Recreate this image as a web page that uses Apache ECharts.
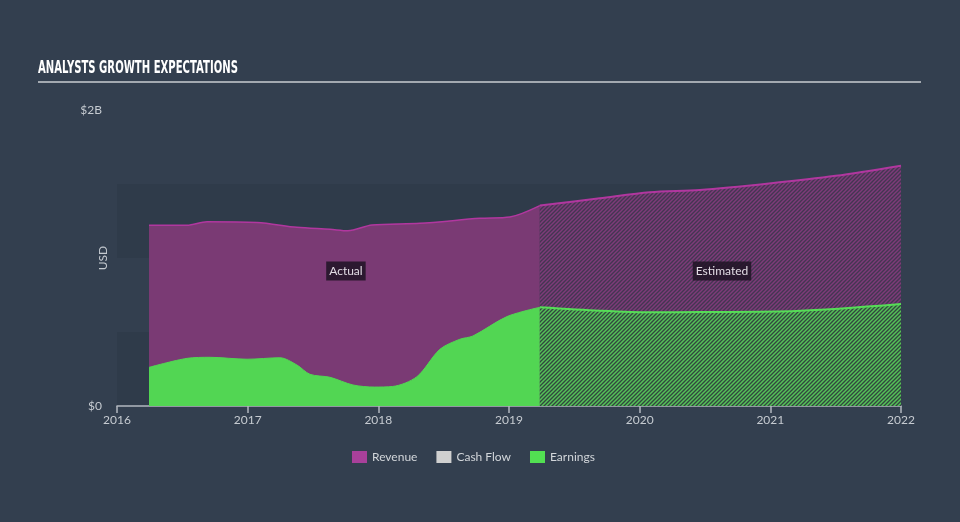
<!DOCTYPE html>
<html>
<head>
<meta charset="utf-8">
<script src="https://cdn.jsdelivr.net/npm/echarts@6/dist/echarts.min.js"></script>
<style>
html,body{margin:0;padding:0;background:#333f4f;}
#chart{width:960px;height:522px;}
</style>
</head>
<body>
<div id="chart"></div>
<script>
// ---- data (values in billions USD, x in fractional years) ----
const xTicks = [2016, 2017, 2018, 2019, 2020, 2021, 2022];
const yTickLabels = ['$0', '$2B'];

const revenueActualDates = [2016.245, 2016.536, 2016.689, 2017.071, 2017.377, 2017.630, 2017.767, 2017.951, 2018.318, 2018.777, 2019.007, 2019.236];
const revenueActual      = [1.221,    1.221,    1.245,    1.240,    1.207,    1.194,    1.184,    1.223,    1.234,    1.268,    1.277,    1.354];

const revenueEstDates = [2019.236, 2019.695, 2020.078, 2020.460, 2020.990, 2021.500, 2022.000];
const revenueEst      = [1.354,    1.403,    1.444,    1.459,    1.503,    1.555,    1.624];

const earningsActualDates = [2016.245, 2016.536, 2016.712, 2016.995, 2017.247, 2017.377, 2017.477, 2017.630, 2017.806, 2017.970, 2018.110, 2018.295, 2018.471, 2018.624, 2018.724, 2018.984, 2019.236];
const earningsActual      = [0.261,    0.322,    0.329,    0.316,    0.326,    0.277,    0.214,    0.194,    0.142,    0.128,    0.132,    0.198,    0.383,    0.451,    0.473,    0.604,    0.667];

const earningsEstDates = [2019.236, 2019.695, 2020.078, 2020.460, 2021.200, 2022.000];
const earningsEst      = [0.667,    0.644,    0.633,    0.635,    0.642,    0.689];

const titleText = 'ANALYSTS GROWTH EXPECTATIONS';
const periodLabels = ['Actual', 'Estimated'];
const periodLabelPos = [[2017.752, 0.912], [2020.630, 0.912]];

// ---- helpers ----
const B = 1e9;
function pairs(xs, ys) { return xs.map((x, i) => [x, ys[i] * B]); }

function hatch(bg, fg) {
  const s = 4;
  const c = document.createElement('canvas');
  c.width = s; c.height = s;
  const g = c.getContext('2d');
  g.fillStyle = bg; g.fillRect(0, 0, s, s);
  g.strokeStyle = fg; g.lineWidth = 1.5;
  g.beginPath();
  g.moveTo(-1, s + 1); g.lineTo(s + 1, -1);
  g.moveTo(-1, 1); g.lineTo(1, -1);
  g.moveTo(s - 1, s + 1); g.lineTo(s + 1, s - 1);
  g.stroke();
  return { image: c, repeat: 'repeat' };
}

const REV_FILL = '#7a3a74', REV_LINE = '#b1379f';
const ERN_FILL = '#52d653', ERN_LINE = '#56dd57';
const FONT = 'Lato, sans-serif';

const chart = echarts.init(document.getElementById('chart'), null, { renderer: 'canvas' });
chart.setOption({
  backgroundColor: '#333f4f',
  animation: false,
  graphic: [
    {
      type: 'text', x: 38, y: 68, scaleX: 0.56, silent: true,
      style: { text: titleText, x: 0, y: 0, fill: '#ffffff', font: 'bold 18px "DejaVu Sans", sans-serif',
        textVerticalAlign: 'middle', textAlign: 'left' }
    },
    {
      type: 'line', shape: { x1: 38, y1: 82, x2: 921, y2: 82 },
      style: { stroke: '#a3a9b0', lineWidth: 2 }, silent: true
    }
  ],
  grid: { left: 117, right: 59, top: 110, bottom: 116 },
  legend: {
    bottom: 54, left: 347,
    icon: 'rect', itemWidth: 15, itemHeight: 12, itemGap: 19,
    textStyle: { color: '#d2d6da', fontSize: 12, fontFamily: FONT },
    data: [
      { name: 'Revenue', itemStyle: { color: '#a8409a', borderWidth: 0 } },
      { name: 'Cash Flow', itemStyle: { color: '#d0d0d0', borderWidth: 0 } },
      { name: 'Earnings', itemStyle: { color: '#52e052', borderWidth: 0 } }
    ]
  },
  xAxis: {
    type: 'value', min: 2016, max: 2022, interval: 1,
    axisLine: { lineStyle: { color: '#b2b8c0', width: 1.5 } },
    axisTick: { show: true, length: 7, lineStyle: { color: '#b2b8c0', width: 1.5 } },
    axisLabel: { color: '#c6cbd1', fontSize: 12, margin: 8, fontFamily: FONT,
      formatter: v => (xTicks.indexOf(v) >= 0 ? String(v) : '') },
    splitLine: { show: false }
  },
  yAxis: {
    type: 'value', min: 0, max: 2 * B, interval: 0.5 * B,
    name: 'USD', nameLocation: 'middle', nameRotate: 90, nameGap: 8, nameMoveOverlap: false,
    nameTextStyle: { color: '#c6cbd1', fontSize: 12, fontFamily: FONT },
    axisLine: { show: false }, axisTick: { show: false },
    splitLine: { show: false },
    splitArea: { show: true, areaStyle: { color: ['#2f3b4a', '#333f4f', '#2f3b4a', 'rgba(0,0,0,0)'] } },
    axisLabel: { color: '#c6cbd1', fontSize: 12, margin: 15, fontFamily: FONT, padding: [0, 0, 5, 0],
      formatter: v => (v === 0 ? yTickLabels[0] : (v === 2 * B ? yTickLabels[1] : '')) }
  },
  series: [
    {
      name: 'Revenue', type: 'line', data: pairs(revenueActualDates, revenueActual),
      smooth: 0.3, showSymbol: false, z: 2,
      lineStyle: { color: REV_LINE, width: 1.5 }, itemStyle: { color: REV_LINE },
      areaStyle: { color: REV_FILL, opacity: 1 },
      markPoint: {
        symbol: 'rect', symbolSize: 0, silent: true,
        label: { show: true, position: 'inside', color: '#e2dce4', fontSize: 12, fontFamily: FONT,
          backgroundColor: 'rgba(30,20,36,0.85)', padding: [4, 3, 3, 3],
          formatter: p => p.name },
        data: periodLabels.map((n, i) => ({ name: n, coord: [periodLabelPos[i][0], periodLabelPos[i][1] * B] }))
      }
    },
    {
      name: 'Revenue', type: 'line', data: pairs(revenueEstDates, revenueEst),
      smooth: 0.3, showSymbol: false, z: 2,
      lineStyle: { color: REV_LINE, width: 2 }, itemStyle: { color: REV_LINE },
      areaStyle: { color: hatch('#433651', '#7e3b79'), opacity: 1 }
    },
    { name: 'Cash Flow', type: 'line', data: [], itemStyle: { color: '#d0d0d0' } },
    {
      name: 'Earnings', type: 'line', data: pairs(earningsActualDates, earningsActual),
      smooth: 0.3, showSymbol: false, z: 3,
      lineStyle: { color: ERN_FILL, width: 1 }, itemStyle: { color: ERN_FILL },
      areaStyle: { color: ERN_FILL, opacity: 1 }
    },
    {
      name: 'Earnings', type: 'line', data: pairs(earningsEstDates, earningsEst),
      smooth: 0.3, showSymbol: false, z: 3,
      lineStyle: { color: ERN_LINE, width: 2 }, itemStyle: { color: ERN_LINE },
      areaStyle: { color: hatch('#32463f', '#55c258'), opacity: 1 }
    }
  ]
});
</script>
</body>
</html>
